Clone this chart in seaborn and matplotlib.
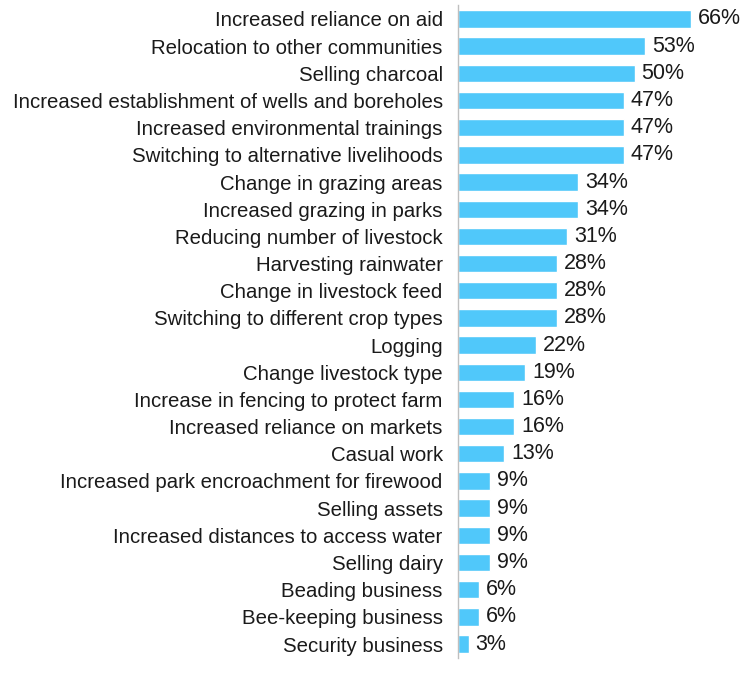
import pandas as pd
import matplotlib.pyplot as plt
import seaborn as sns

# Data
strategies = [
    'Increased reliance on aid',
    'Relocation to other communities',
    'Selling charcoal',
    'Increased establishment of wells and boreholes',
    'Increased environmental trainings',
    'Switching to alternative livelihoods',
    'Change in grazing areas',
    'Increased grazing in parks',
    'Reducing number of livestock',
    'Harvesting rainwater',
    'Change in livestock feed',
    'Switching to different crop types',
    'Logging',
    'Change livestock type',
    'Increase in fencing to protect farm',
    'Increased reliance on markets',
    'Casual work',
    'Increased park encroachment for firewood',
    'Selling assets',
    'Increased distances to access water',
    'Selling dairy',
    'Beading business',
    'Bee-keeping business',
    'Security business',
]
percent = [66, 53, 50, 47, 47, 47, 34, 34, 31, 28, 28, 28, 22, 19, 16, 16, 13,
           9, 9, 9, 9, 6, 6, 3]

df = pd.DataFrame({'Strategy': strategies, 'Percent': percent})

sns.set_theme(style='white')
plt.rcParams['font.family'] = ['Liberation Sans', 'DejaVu Sans']

fig = plt.figure(figsize=(7.55, 6.85), dpi=100)
ax = fig.add_axes([458 / 755, 1 - 657.6 / 685, 287 / 755, (657.6 - 5.4) / 685])

sns.barplot(data=df, x='Percent', y='Strategy', orient='h', color='#50C8FA',
            saturation=1, width=0.64, ax=ax)

for i, v in enumerate(percent):
    ax.text(v + 2, i, f'{v}%', va='center', ha='left', fontsize=15.5, color='#1a1a1a')

ax.set_xlim(0, 81.3)
ax.set_ylim(len(strategies) - 0.5, -0.5)
ax.set_xlabel('')
ax.set_ylabel('')
ax.set_xticks([])
ax.tick_params(axis='y', length=0, pad=11, labelsize=14.7, labelcolor='#1a1a1a')
for side in ['top', 'right', 'bottom']:
    ax.spines[side].set_visible(False)
ax.spines['left'].set_color('#BFBFBF')
ax.spines['left'].set_linewidth(1)

fig.savefig('out.png', dpi=100)
plt.close()
